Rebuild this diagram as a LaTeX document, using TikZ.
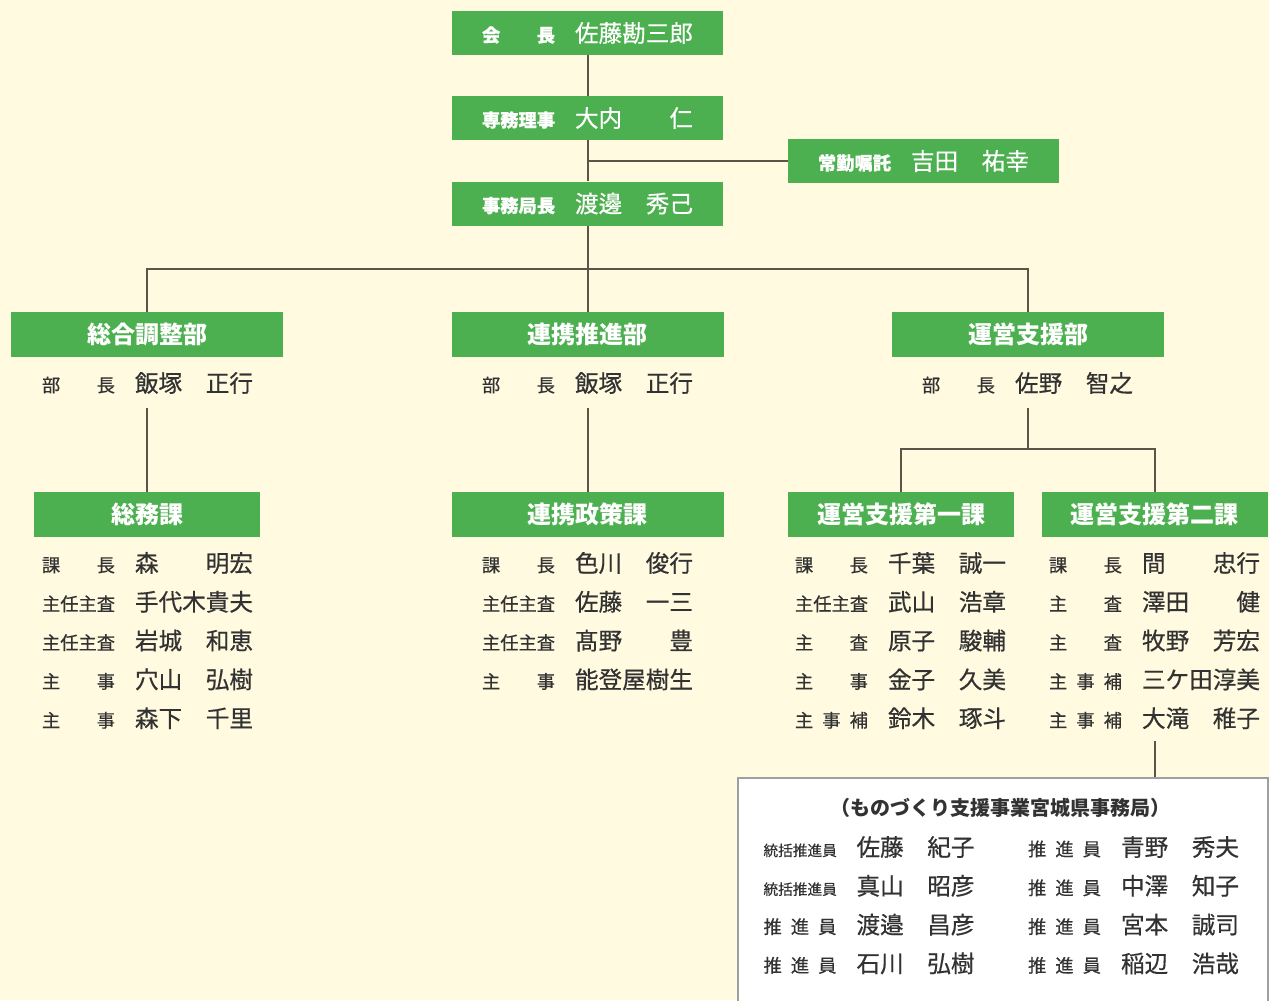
\documentclass[tikz,border=0pt]{standalone}
\usepackage{fontspec}
\setmainfont{Noto Sans CJK JP}
\newfontfamily\jpmed{Noto Sans CJK JP}[FakeBold=0.5]
\usepackage{tikz}
\usetikzlibrary{positioning,calc}
\definecolor{paper}{RGB}{255,250,224}
\definecolor{leaf}{RGB}{77,176,80}
\definecolor{ink}{RGB}{50,50,50}
\definecolor{wire}{RGB}{92,84,72}

% one line: post, then surname ... given name
\newcommand\yaku[1]{\makebox[54.75pt][s]{\fontsize{13.7pt}{14pt}\selectfont #1}}
\newcommand\namae[2]{\makebox[88.5pt][s]{\fontsize{17.7pt}{18pt}\selectfont #1\hfill #2}}
\newcommand\gyo[3]{\yaku{#1}\hspace{15pt}\namae{#2}{#3}}
\newcommand\topgyo[3]{\yaku{\bfseries #1}\hspace{15pt}\namae{#2}{#3}}
\newcommand\tokatsu{\fontsize{11pt}{11pt}\selectfont 統括推進員}

\begin{document}
\begin{tikzpicture}[x=0.75pt, y=-0.75pt,
    conn/.style={draw=wire, line width=1.5pt},
    topbox/.style={fill=leaf, text=white, font=\jpmed, minimum width=203.25pt, minimum height=33pt, inner sep=0pt},
    bubox/.style={fill=leaf, text=white, font=\bfseries\fontsize{18pt}{20pt}\selectfont, minimum width=204pt, minimum height=33.75pt, inner sep=0pt},
    kabox/.style={bubox, minimum width=169.5pt},
    member/.style={text=ink, font=\jpmed, inner sep=0pt},
    officebox/.style={draw=gray!75, line width=1.5pt, fill=white, minimum width=397.5pt, minimum height=180pt, inner sep=0pt}]
    \fill[paper] (0,0) rectangle (1269,1000);
    \useasboundingbox (0,0) rectangle (1269,1000);

    % Top
    \node[topbox] (kaicho) at (587.5,33) {\topgyo{会\hfill 長}{佐藤}{勘三郎}};
    \node[topbox] (senmu) at (587.5,118) {\topgyo{専務理事}{大内}{仁}};
    \node[topbox] (shokutaku) at (923.5,161) {\topgyo{常勤嘱託}{吉田}{祐幸}};
    \node[topbox] (kyokucho) at (587.5,203.5) {\topgyo{事務局長}{渡邊}{秀己}};

    % Departments
    \node[bubox] (sogo) at (147,334.5) {総合調整部};
    \node[bubox] (renkei) at (587.5,334.5) {連携推進部};
    \node[bubox] (unei) at (1028,334.5) {運営支援部};
    \node[member] (sogohead) at (147.5,383) {\gyo{部\hfill 長}{飯塚}{正行}};
    \node[member] (renkeihead) at (587.5,383) {\gyo{部\hfill 長}{飯塚}{正行}};
    \node[member] (ueihead) at (1027.5,383) {\gyo{部\hfill 長}{佐野}{智之}};

    % Sections
    \node[kabox] (somu) at (147,514.5) {総務課};
    \node[bubox] (seisaku) at (587.5,514.5) {連携政策課};
    \node[kabox] (unei1) at (901,514.5) {運営支援第一課};
    \node[kabox] (unei2) at (1154.5,514.5) {運営支援第二課};

    \foreach \t/\s/\g [count=\i] in {課\hfill 長/森/明宏, 主任主査/手代木/貴夫, 主任主査/岩城/和恵, 主\hfill 事/穴山/弘樹, 主\hfill 事/森下/千里}
        \node[member] (a\i) at (147.5,{524.2+38.8*\i}) {\gyo{\t}{\s}{\g}};
    \foreach \t/\s/\g [count=\i] in {課\hfill 長/色川/俊行, 主任主査/佐藤/一三, 主任主査/髙野/豊, 主\hfill 事/能登屋/樹生}
        \node[member] (b\i) at (587.5,{524.2+38.8*\i}) {\gyo{\t}{\s}{\g}};
    \foreach \t/\s/\g [count=\i] in {課\hfill 長/千葉/誠一, 主任主査/武山/浩章, 主\hfill 査/原子/駿輔, 主\hfill 事/金子/久美, 主\hfill 事\hfill 補/鈴木/琢斗}
        \node[member] (c\i) at (900.5,{524.2+38.8*\i}) {\gyo{\t}{\s}{\g}};
    \foreach \t/\s/\g [count=\i] in {課\hfill 長/間/忠行, 主\hfill 査/澤田/健, 主\hfill 査/牧野/芳宏, 主\hfill 事\hfill 補/三ケ田/淳美, 主\hfill 事\hfill 補/大滝/稚子}
        \node[member] (d\i) at (1154.5,{524.2+38.8*\i}) {\gyo{\t}{\s}{\g}};

    % Office
    \node[officebox, anchor=north west] (jimukyoku) at (737,777) {};
    \node[text=ink, font=\bfseries\fontsize{15pt}{16pt}\selectfont] (jimutitle) at (1000,808) {（ものづくり支援事業宮城県事務局）};
    \foreach \t/\s/\g [count=\i] in {\tokatsu/佐藤/紀子, \tokatsu/真山/昭彦, 推\hfill 進\hfill 員/渡邉/昌彦, 推\hfill 進\hfill 員/石川/弘樹}
        \node[member] (e\i) at (869,{808.2+38.8*\i}) {\gyo{\t}{\s}{\g}};
    \foreach \t/\s/\g [count=\i] in {推\hfill 進\hfill 員/青野/秀夫, 推\hfill 進\hfill 員/中澤/知子, 推\hfill 進\hfill 員/宮本/誠司, 推\hfill 進\hfill 員/稲辺/浩哉}
        \node[member] (f\i) at (1133.5,{808.2+38.8*\i}) {\gyo{\t}{\s}{\g}};

    % Connectors
    \coordinate (hub) at (587.5,269);
    \coordinate (split) at (1028,449);
    \draw[conn] (kaicho) -- (senmu);
    \draw[conn] (senmu) -- (kyokucho);
    \draw[conn] (senmu.south |- shokutaku) -- (shokutaku);
    \draw[conn] (kyokucho) -- (hub);
    \draw[conn] (sogo.north) |- (hub) -| (unei.north);
    \draw[conn] (hub) -- (renkei);
    \draw[conn] ([yshift=-10pt]sogohead.south -| sogo) -- (somu);
    \draw[conn] ([yshift=-10pt]renkeihead.south -| renkei) -- (seisaku);
    \draw[conn] ([yshift=-10pt]ueihead.south -| unei) -- (split);
    \draw[conn] (unei1.north) |- (split) -| (unei2.north);
    \draw[conn] ([yshift=-9pt]d5.south -| unei2) -- (unei2 |- jimukyoku.north);
\end{tikzpicture}
\end{document}
